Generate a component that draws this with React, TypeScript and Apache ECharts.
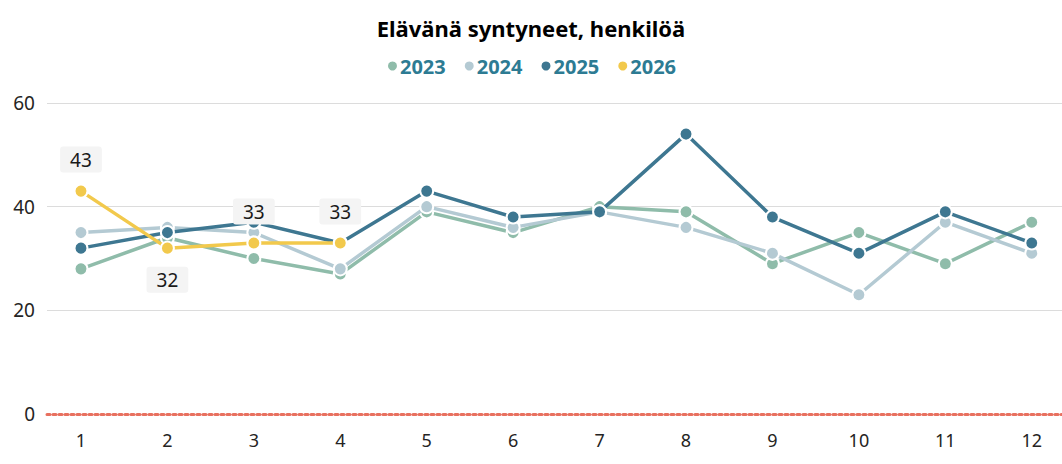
import React, { useEffect, useRef } from "react";
import * as echarts from "echarts";

const months = [1, 2, 3, 4, 5, 6, 7, 8, 9, 10, 11, 12];
const y2023 = [28, 34, 30, 27, 39, 35, 40, 39, 29, 35, 29, 37];
const y2024 = [35, 36, 35, 28, 40, 36, 39, 36, 31, 23, 37, 31];
const y2025 = [32, 35, 37, 33, 43, 38, 39, 54, 38, 31, 39, 33];
const y2026 = [43, 32, 33, 33];
const labelPos2026 = ["top", "bottom", "top", "top"];
const yTicks = [0, 20, 40, 60];

const FONT = "'Noto Sans', 'Open Sans', sans-serif";

export default function App() {
  const ref = useRef<HTMLDivElement>(null);
  useEffect(() => {
    if (!ref.current) return;
    document.body.style.margin = "0";
    const chart = echarts.init(ref.current, undefined, { renderer: "svg" });
    const mk = (name: string, vals: number[], color: string, z: number) => ({
      name,
      type: "line",
      data: vals.map((v, i) => [months[i], v]),
      symbol: "circle",
      symbolSize: 13,
      z,
      lineStyle: { color, width: 3.5 },
      itemStyle: { color, borderColor: "#fff", borderWidth: 2 },
      emphasis: { disabled: true },
    });
    chart.setOption({
      animation: false,
      textStyle: { fontFamily: FONT },
      title: {
        text: "Elävänä syntyneet, henkilöä",
        left: "center",
        top: 12,
        textStyle: { fontSize: 22, fontWeight: "bold", color: "#000", fontFamily: FONT },
      },
      legend: {
        top: 51,
        left: "center",
        icon: "circle",
        itemWidth: 11,
        itemHeight: 11,
        itemGap: 17,
        textStyle: { color: "#2D7B93", fontWeight: "bold", fontSize: 20, fontFamily: FONT, padding: [0, 0, 0, -3] },
        data: ["2023", "2024", "2025", "2026"],
      },
      grid: { left: 47, right: 0, top: 103, bottom: 50, containLabel: false },
      xAxis: {
        type: "value",
        min: 0.607,
        max: 12.35,
        splitLine: { show: false },
        axisTick: { show: false },
        axisLine: { show: true, lineStyle: { color: "#E8705F", width: 3, type: "dotted" } },
        axisLabel: {
          customValues: months,
          margin: 17,
          fontSize: 18,
          color: "#252423",
          fontFamily: FONT,
        },
      },
      yAxis: {
        type: "value",
        min: yTicks[0],
        max: yTicks[yTicks.length - 1],
        interval: 20,
        axisLine: { show: false },
        axisTick: { show: false },
        splitLine: { lineStyle: { color: "#DCDCDC", width: 1 } },
        axisLabel: { margin: 12, fontSize: 19, color: "#252423", fontFamily: FONT },
      },
      series: [
        mk("2023", y2023, "#8FBCAA", 2),
        mk("2024", y2024, "#B4CAD3", 3),
        mk("2025", y2025, "#3E7791", 4),
        {
          ...mk("2026", y2026, "#F2C94C", 5),
          data: y2026.map((v, i) => ({
            value: [months[i], v],
            label: { position: labelPos2026[i] },
          })),
          label: {
            show: true,
            distance: 11,
            fontSize: 19,
            color: "#1a1a1a",
            fontFamily: FONT,
            backgroundColor: "#F4F4F4",
            borderRadius: 3,
            padding: [4, 10, 3, 10],
            formatter: (p: any) => String(p.value[1]),
          },
        },
      ],
    });
    return () => chart.dispose();
  }, []);
  return <div ref={ref} style={{ width: 1062, height: 464 }} />;
}
